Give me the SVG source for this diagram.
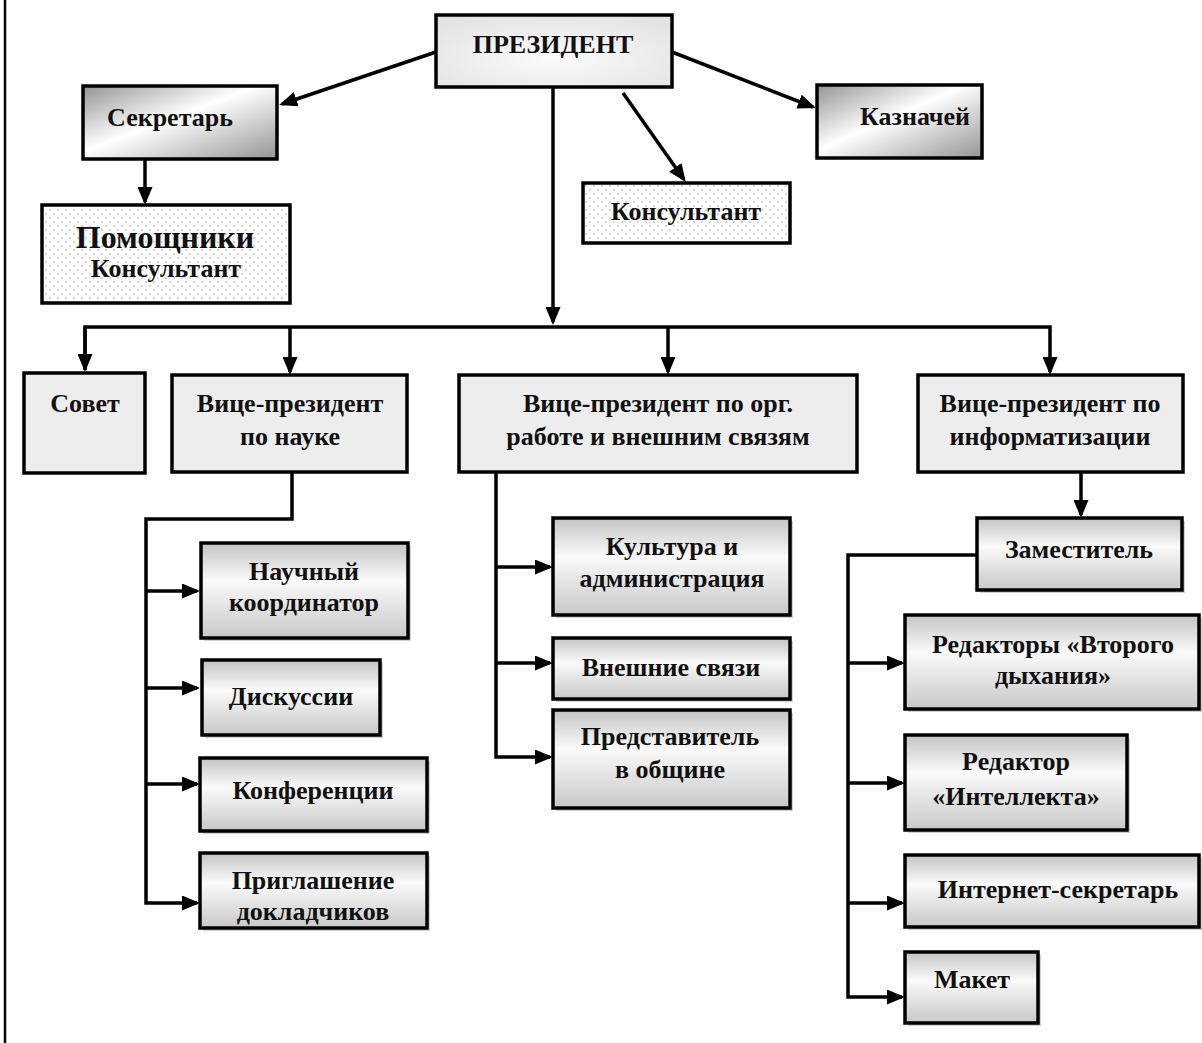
<svg xmlns="http://www.w3.org/2000/svg" width="1202" height="1043" viewBox="0 0 1202 1043">
<style>
.t{font-family:"Liberation Serif","Times New Roman",serif;font-weight:bold;font-size:26px;fill:#111;text-anchor:middle}
.big{font-size:32px}
.box{stroke:#000;stroke-width:3.5}
.sh{fill:#b0b0b0;opacity:0.6}
.flat{fill:#ededed}
.ln{fill:none;stroke:#000;stroke-width:3.5}
.bd{fill:none;stroke:#000;stroke-width:2.5}
</style>
<defs>
<marker id="ah" markerUnits="userSpaceOnUse" markerWidth="18" markerHeight="15" viewBox="0 0 18 15" refX="15" refY="7.5" orient="auto">
<path d="M0,0 L18,7.5 L0,15 z" fill="#000"/>
</marker>
<linearGradient id="diag" x1="0" y1="0" x2="1" y2="1">
<stop offset="0" stop-color="#949494"/>
<stop offset="0.45" stop-color="#ffffff"/>
<stop offset="1" stop-color="#949494"/>
</linearGradient>
<linearGradient id="band" x1="0" y1="0" x2="0" y2="1">
<stop offset="0" stop-color="#c4c4c4"/>
<stop offset="0.4" stop-color="#fafafa"/>
<stop offset="1" stop-color="#c8c8c8"/>
</linearGradient>
<radialGradient id="rad" cx="0.5" cy="0.6" r="0.7">
<stop offset="0" stop-color="#fbfbfb"/>
<stop offset="1" stop-color="#e2e2e2"/>
</radialGradient>
<pattern id="dots" width="8" height="8" patternUnits="userSpaceOnUse">
<rect width="8" height="8" fill="#fff"/>
<circle cx="2" cy="2" r="0.9" fill="#c4c4c4"/>
<circle cx="6" cy="6" r="0.9" fill="#c4c4c4"/>
</pattern>
</defs>
<rect width="1202" height="1043" fill="#fff"/>
<line class="bd" x1="5" y1="0" x2="5" y2="1043"/>

<g id="connectors">
<line class="ln" x1="436" y1="52" x2="282" y2="104" marker-end="url(#ah)"/>
<line class="ln" x1="672" y1="52" x2="813" y2="107" marker-end="url(#ah)"/>
<line class="ln" x1="623" y1="93" x2="684" y2="179.6" marker-end="url(#ah)"/>
<line class="ln" x1="553" y1="87" x2="553" y2="322" marker-end="url(#ah)"/>
<line class="ln" x1="145" y1="159" x2="145" y2="202" marker-end="url(#ah)"/>
<polyline class="ln" points="85,370 85,327 1050,327 1050,372" marker-end="url(#ah)"/>
<line class="ln" x1="290" y1="327" x2="290" y2="372" marker-end="url(#ah)"/>
<line class="ln" x1="668" y1="327" x2="668" y2="372" marker-end="url(#ah)"/>
<line class="ln" x1="85" y1="327" x2="85" y2="369" marker-end="url(#ah)"/>
<polyline class="ln" points="292,472 292,519 146,519 146,903 197,903" marker-end="url(#ah)"/>
<line class="ln" x1="146" y1="591" x2="197" y2="591" marker-end="url(#ah)"/>
<line class="ln" x1="146" y1="688" x2="197" y2="688" marker-end="url(#ah)"/>
<line class="ln" x1="146" y1="784" x2="197" y2="784" marker-end="url(#ah)"/>
<polyline class="ln" points="496,472 496,757 550,757" marker-end="url(#ah)"/>
<line class="ln" x1="496" y1="567" x2="550" y2="567" marker-end="url(#ah)"/>
<line class="ln" x1="496" y1="663" x2="550" y2="663" marker-end="url(#ah)"/>
<line class="ln" x1="1081" y1="472" x2="1081" y2="515" marker-end="url(#ah)"/>
<polyline class="ln" points="977,555 848,555 848,997 902,997" marker-end="url(#ah)"/>
<line class="ln" x1="848" y1="663" x2="902" y2="663" marker-end="url(#ah)"/>
<line class="ln" x1="848" y1="783" x2="902" y2="783" marker-end="url(#ah)"/>
<line class="ln" x1="848" y1="903" x2="902" y2="903" marker-end="url(#ah)"/>
</g>

<g id="president">
<rect class="box" x="436" y="15" width="236" height="72" fill="url(#rad)"/>
<text class="t" x="553" y="53">ПРЕЗИДЕНТ</text>
</g>
<g id="secretary">
<rect class="box" x="83" y="86" width="194" height="73" fill="url(#diag)"/>
<text class="t" x="170" y="126">Секретарь</text>
</g>
<g id="treasurer">
<rect class="box" x="817" y="85" width="165" height="73" fill="url(#diag)"/>
<text class="t" x="915" y="125">Казначей</text>
</g>
<g id="assistants">
<rect class="box" x="42" y="205" width="248" height="98" fill="url(#dots)"/>
<text class="t big" x="165" y="248">Помощники</text>
<text class="t" x="166" y="277">Консультант</text>
</g>
<g id="consultant">
<rect class="box" x="583" y="183" width="207" height="60" fill="url(#dots)"/>
<text class="t" x="686" y="220">Консультант</text>
</g>
<g id="council">
<rect class="box flat" x="24" y="373" width="121" height="100"/>
<text class="t" x="85" y="412">Совет</text>
</g>
<g id="vp-science">
<rect class="box flat" x="172" y="375" width="235" height="97"/>
<text class="t" x="290" y="412">Вице-президент</text>
<text class="t" x="290" y="445">по науке</text>
</g>
<g id="vp-org">
<rect class="box flat" x="459" y="375" width="398" height="97"/>
<text class="t" x="658" y="412">Вице-президент по орг.</text>
<text class="t" x="658" y="445">работе и внешним связям</text>
</g>
<g id="vp-info">
<rect class="box flat" x="918" y="375" width="265" height="97"/>
<text class="t" x="1050" y="412">Вице-президент по</text>
<text class="t" x="1050" y="445">информатизации</text>
</g>

<g id="sci-coord">
<rect class="sh" x="204" y="546" width="207" height="95"/>
<rect class="box" x="201" y="543" width="207" height="95" fill="url(#band)"/>
<text class="t" x="304" y="580">Научный</text>
<text class="t" x="304" y="611">координатор</text>
</g>
<g id="discussions">
<rect class="sh" x="205" y="663" width="178" height="75"/>
<rect class="box" x="202" y="660" width="178" height="75" fill="url(#band)"/>
<text class="t" x="291" y="705">Дискуссии</text>
</g>
<g id="conferences">
<rect class="sh" x="203" y="761" width="227" height="73"/>
<rect class="box" x="200" y="758" width="227" height="73" fill="url(#band)"/>
<text class="t" x="313" y="799">Конференции</text>
</g>
<g id="speakers">
<rect class="sh" x="203" y="856" width="227" height="75"/>
<rect class="box" x="200" y="853" width="227" height="75" fill="url(#band)"/>
<text class="t" x="313" y="889">Приглашение</text>
<text class="t" x="313" y="920">докладчиков</text>
</g>

<g id="culture">
<rect class="sh" x="556" y="521" width="237" height="97"/>
<rect class="box" x="553" y="518" width="237" height="97" fill="url(#band)"/>
<text class="t" x="672" y="555">Культура и</text>
<text class="t" x="672" y="587">администрация</text>
</g>
<g id="external">
<rect class="sh" x="556" y="641" width="237" height="61"/>
<rect class="box" x="553" y="638" width="237" height="61" fill="url(#band)"/>
<text class="t" x="671" y="676">Внешние связи</text>
</g>
<g id="representative">
<rect class="sh" x="556" y="713" width="237" height="98"/>
<rect class="box" x="553" y="710" width="237" height="98" fill="url(#band)"/>
<text class="t" x="670" y="745">Представитель</text>
<text class="t" x="670" y="778">в общине</text>
</g>

<g id="deputy">
<rect class="sh" x="980" y="521" width="205" height="72"/>
<rect class="box" x="977" y="518" width="205" height="72" fill="url(#band)"/>
<text class="t" x="1079" y="558">Заместитель</text>
</g>
<g id="editors-2nd">
<rect class="sh" x="908" y="618" width="294" height="94"/>
<rect class="box" x="905" y="615" width="294" height="94" fill="url(#band)"/>
<text class="t" x="1053" y="653">Редакторы «Второго</text>
<text class="t" x="1053" y="684">дыхания»</text>
</g>
<g id="editor-intellect">
<rect class="sh" x="908" y="738" width="222" height="95"/>
<rect class="box" x="905" y="735" width="222" height="95" fill="url(#band)"/>
<text class="t" x="1016" y="770">Редактор</text>
<text class="t" x="1016" y="805">«Интеллекта»</text>
</g>
<g id="internet-secretary">
<rect class="sh" x="908" y="858" width="294" height="72"/>
<rect class="box" x="905" y="855" width="294" height="72" fill="url(#band)"/>
<text class="t" x="1058" y="898">Интернет-секретарь</text>
</g>
<g id="layout">
<rect class="sh" x="908" y="955" width="133" height="71"/>
<rect class="box" x="905" y="952" width="133" height="71" fill="url(#band)"/>
<text class="t" x="972" y="988">Макет</text>
</g>
</svg>
